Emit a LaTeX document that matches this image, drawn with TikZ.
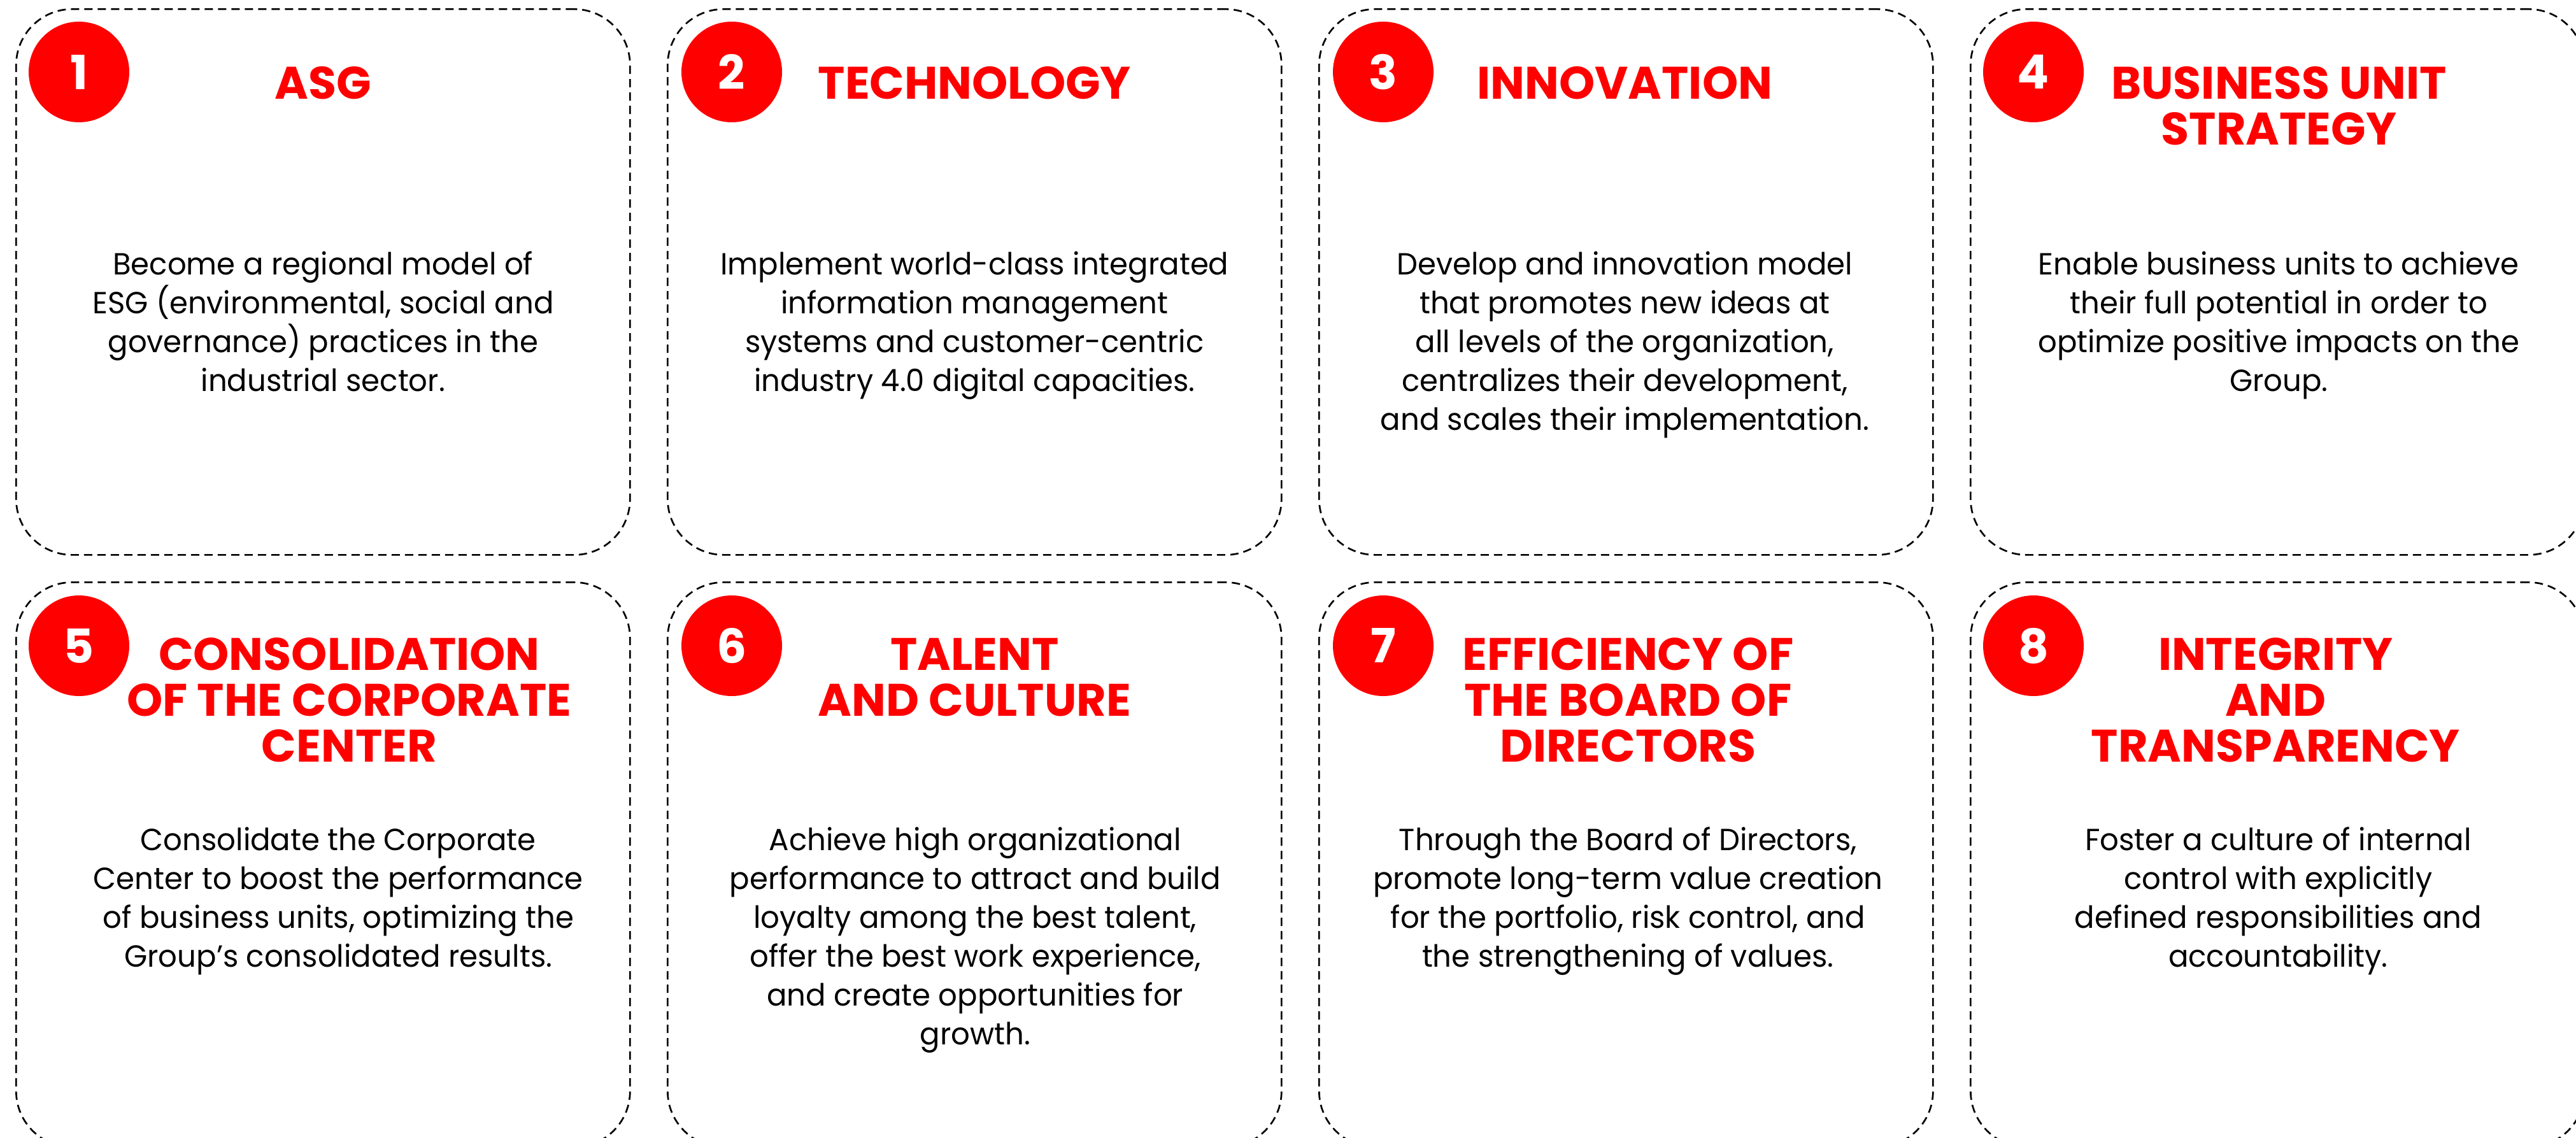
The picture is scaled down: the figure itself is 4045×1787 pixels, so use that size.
\documentclass[tikz,border=0pt]{standalone}
\usepackage{fontspec}
\setmainfont{Poppins}
\newfontfamily\bodyfont{Poppins}[FakeStretch=0.97]
\definecolor{brand}{HTML}{FF0000}
\tikzset{
  card/.style={draw=black, line width=0.67pt, dash pattern=on 3.25pt off 2pt,
    rounded corners=22pt, rectangle, minimum width=241pt, inner sep=0pt,
    anchor=north west},
  toprow/.style={minimum height=214.25pt},
  botrow/.style={minimum height=221.75pt},
  badge/.style={circle, fill=brand, minimum size=39.5pt, inner sep=0pt,
    text=white, font=\bfseries\fontsize{18.5pt}{18.5pt}\selectfont},
  ttl/.style={text=brand, font=\bfseries\fontsize{17.9pt}{18pt}\selectfont,
    align=center, anchor=north, inner sep=0pt},
  bodytxt/.style={text=black, font=\bodyfont\fontsize{12pt}{15.25pt}\selectfont,
    align=center, anchor=north, inner sep=0pt}
}
\begin{document}
\begin{tikzpicture}[x=0.25pt,y=-0.25pt]
\fill[white] (0,0) rectangle (4045,1787);
\useasboundingbox (0,0) rectangle (4045,1787);
\clip (0,0) rectangle (4045,1787);
% cards
\node[card,toprow] (c1) at (24,13) {};
\node[card,toprow] (c2) at (1047,13) {};
\node[card,toprow] (c3) at (2070,13) {};
\node[card,toprow] (c4) at (3093,13) {};
\node[card,botrow] (c5) at (24,913) {};
\node[card,botrow] (c6) at (1047,913) {};
\node[card,botrow] (c7) at (2070,913) {};
\node[card,botrow] (c8) at (3093,913) {};
% badges
\node[badge] (b1) at ([shift={(100,100)}]c1.north west) {1};
\node[badge] (b2) at ([shift={(102,100)}]c2.north west) {2};
\node[badge] (b3) at ([shift={(102,100)}]c3.north west) {3};
\node[badge] (b4) at ([shift={(100,100)}]c4.north west) {4};
\node[badge] (b5) at ([shift={(100,101)}]c5.north west) {5};
\node[badge] (b6) at ([shift={(102,101)}]c6.north west) {6};
\node[badge] (b7) at ([shift={(102,101)}]c7.north west) {7};
\node[badge] (b8) at ([shift={(100,101)}]c8.north west) {8};
% titles
\node[ttl] (t1) at ([shift={(0,91)}]c1.north) {ASG};
\node[ttl] (t2) at ([shift={(0,91)}]c2.north) {TECHNOLOGY};
\node[ttl] (t3) at ([shift={(-2,91)}]c3.north) {INNOVATION};
\node[ttl] (t4) at ([shift={(2,91)}]c4.north) {BUSINESS UNIT\\STRATEGY};
\node[ttl] (t5) at ([shift={(41,88)}]c5.north) {CONSOLIDATION\\OF THE CORPORATE\\CENTER};
\node[ttl] (t6) at ([shift={(0,88)}]c6.north) {TALENT\\AND CULTURE};
\node[ttl] (t7) at ([shift={(3,88)}]c7.north) {EFFICIENCY OF\\THE BOARD OF\\DIRECTORS};
\node[ttl] (t8) at ([shift={(-3,88)}]c8.north) {INTEGRITY\\AND\\TRANSPARENCY};
% body texts
\node[bodytxt] (d1) at ([shift={(0,381)}]c1.north) {Become a regional model of\\ESG (environmental, social and\\governance) practices in the\\industrial sector.};
\node[bodytxt] (d2) at ([shift={(0,381)}]c2.north) {Implement world-class integrated\\information management\\systems and customer-centric\\industry 4.0 digital capacities.};
\node[bodytxt] (d3) at ([shift={(-2,381)}]c3.north) {Develop and innovation model\\that promotes new ideas at\\all levels of the organization,\\centralizes their development,\\and scales their implementation.};
\node[bodytxt] (d4) at ([shift={(2,381)}]c4.north) {Enable business units to achieve\\their full potential in order to\\optimize positive impacts on the\\Group.};
\node[bodytxt] (d5) at ([shift={(24,385)}]c5.north) {Consolidate the Corporate\\Center to boost the performance\\of business units, optimizing the\\Group’s consolidated results.};
\node[bodytxt] (d6) at ([shift={(1,385)}]c6.north) {Achieve high organizational\\performance to attract and build\\loyalty among the best talent,\\offer the best work experience,\\and create opportunities for\\growth.};
\node[bodytxt] (d7) at ([shift={(3,385)}]c7.north) {Through the Board of Directors,\\promote long-term value creation\\for the portfolio, risk control, and\\the strengthening of values.};
\node[bodytxt] (d8) at ([shift={(1,385)}]c8.north) {Foster a culture of internal\\control with explicitly\\defined responsibilities and\\accountability.};
\end{tikzpicture}
\end{document}
